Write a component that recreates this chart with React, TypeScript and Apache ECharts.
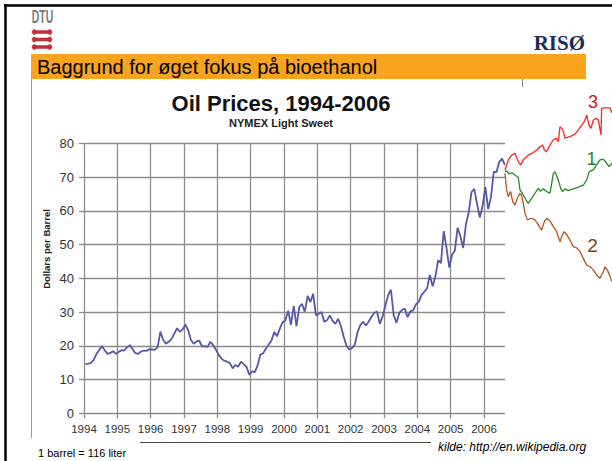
import React, { useEffect, useRef } from 'react';
import * as echarts from 'echarts';

// Monthly NYMEX light sweet prices (USD per barrel)
const priceYears = [1994, 1995, 1996, 1997, 1998, 1999, 2000, 2001, 2002, 2003, 2004, 2005, 2006];
const prices1994 = [14.6, 14.7, 14.9, 15.8, 17.6, 18.8, 19.9, 18.6, 17.6, 17.9, 18.4, 17.6];
const prices1995 = [18.2, 18.7, 18.6, 19.6, 20.2, 19.0, 17.8, 17.6, 18.3, 18.6, 18.5, 19.0];
const prices1996 = [18.9, 18.8, 19.6, 24.2, 21.7, 20.6, 21.2, 22.0, 23.6, 25.2, 24.2, 24.8];
const prices1997 = [26.3, 24.6, 21.7, 20.6, 21.3, 21.5, 19.8, 19.9, 19.7, 21.2, 20.2, 18.8];
const prices1998 = [17.3, 16.2, 15.6, 15.3, 14.9, 13.3, 14.3, 13.8, 15.3, 14.5, 13.8, 11.4];
const prices1999 = [12.4, 12.2, 14.2, 17.4, 17.8, 19.2, 20.4, 21.6, 24.1, 22.8, 25.1, 27.0];
const prices2000 = [27.6, 30.4, 26.2, 31.8, 25.8, 31.5, 32.4, 30.1, 34.8, 33.0, 35.4, 29.0];
const prices2001 = [29.5, 30.0, 27.1, 27.6, 29.0, 27.4, 26.5, 28.0, 25.8, 22.7, 20.0, 18.9];
const prices2002 = [19.3, 20.4, 24.1, 26.2, 27.1, 26.0, 27.2, 28.6, 29.8, 30.1, 26.5, 28.7];
const prices2003 = [32.0, 35.0, 36.6, 29.0, 26.8, 29.8, 30.6, 31.0, 28.5, 30.2, 30.5, 32.3];
const prices2004 = [33.0, 35.0, 36.0, 37.0, 41.0, 37.6, 40.5, 45.4, 44.5, 54.0, 49.0, 43.2];
const prices2005 = [47.0, 48.2, 55.0, 52.5, 49.0, 56.0, 59.5, 65.5, 66.5, 62.0, 58.0, 61.5];
const prices2006 = [67.0, 60.5, 64.0, 71.5, 71.5, 74.5, 75.5, 73.6];
const priceTable = [
  prices1994, prices1995, prices1996, prices1997, prices1998, prices1999, prices2000,
  prices2001, prices2002, prices2003, prices2004, prices2005, prices2006,
];

// Hand-drawn scenario curves beyond the chart (year, USD per barrel)
const scenario3Years = [2006.63, 2006.73, 2006.83, 2006.93, 2007.03, 2007.10, 2007.18, 2007.33, 2007.43, 2007.58, 2007.68, 2007.76, 2007.81, 2007.88, 2007.98, 2008.08, 2008.16, 2008.23, 2008.28, 2008.36, 2008.43, 2008.53, 2008.63, 2008.73, 2008.83, 2008.93, 2009.01, 2009.08, 2009.15, 2009.21, 2009.28, 2009.36, 2009.43, 2009.51, 2009.53, 2009.63, 2009.78, 2009.84];
const scenario3Values = [72.1, 75.1, 76.5, 77.0, 74.5, 73.6, 75.1, 76.5, 77.0, 78.0, 79.0, 79.5, 78.0, 77.5, 79.5, 81.0, 81.5, 80.5, 84.9, 84.2, 81.5, 81.8, 82.2, 82.7, 83.9, 85.4, 86.4, 88.4, 85.4, 84.4, 86.9, 87.4, 86.9, 82.5, 90.4, 90.5, 90.5, 89.0];

const scenario1Years = [2006.63, 2006.68, 2006.75, 2006.83, 2006.93, 2007.03, 2007.08, 2007.18, 2007.26, 2007.33, 2007.43, 2007.53, 2007.63, 2007.68, 2007.78, 2007.88, 2007.98, 2008.03, 2008.08, 2008.13, 2008.23, 2008.30, 2008.36, 2008.43, 2008.53, 2008.68, 2008.83, 2008.98, 2009.08, 2009.16, 2009.28, 2009.38, 2009.48, 2009.58, 2009.68, 2009.75, 2009.84];
const scenario1Values = [71.6, 71.8, 70.9, 71.3, 70.6, 69.8, 66.2, 64.7, 63.2, 62.2, 63.7, 65.2, 66.7, 65.8, 66.5, 65.7, 65.2, 68.1, 71.1, 71.6, 69.1, 66.7, 65.7, 66.5, 66.0, 66.5, 67.0, 67.6, 69.1, 71.6, 72.1, 73.6, 75.1, 75.3, 74.1, 73.1, 74.1];

const scenario2Years = [2006.63, 2006.66, 2006.68, 2006.73, 2006.80, 2006.86, 2006.93, 2007.00, 2007.08, 2007.13, 2007.18, 2007.23, 2007.30, 2007.41, 2007.53, 2007.63, 2007.73, 2007.81, 2007.88, 2007.98, 2008.08, 2008.18, 2008.28, 2008.33, 2008.40, 2008.48, 2008.58, 2008.68, 2008.78, 2008.88, 2008.98, 2009.08, 2009.18, 2009.28, 2009.38, 2009.48, 2009.58, 2009.63, 2009.70, 2009.78, 2009.84];
const scenario2Values = [71.1, 68.1, 66.2, 64.2, 65.7, 62.7, 61.7, 63.7, 65.2, 64.5, 62.2, 59.3, 57.3, 57.8, 57.3, 55.8, 54.3, 56.8, 57.8, 57.0, 55.3, 53.8, 50.8, 52.3, 53.8, 53.0, 51.3, 49.4, 49.0, 47.9, 45.9, 43.9, 43.5, 42.5, 41.0, 40.0, 42.0, 43.4, 42.5, 40.5, 39.0];

const yTicks = { min: 0, max: 80, interval: 10 };
const xTicks = { min: 1994, max: 2006.63, interval: 1 };

const FONT = '"Liberation Sans", Arial, Helvetica, sans-serif';
const GRID_COLOR = '#8c8c8c';

function zip(xs: number[], ys: number[]) {
  return xs.map((x, i) => [x, ys[i]]);
}

function txt(x: number, y: number, text: string, o: any = {}) {
  const align = o.align || 'left';
  const vAlign = o.verticalAlign || 'middle';
  return {
    type: 'text',
    x,
    y,
    rotation: o.rotation || 0,
    scaleX: o.scaleX || 1,
    z: 10,
    style: {
      text,
      fill: o.fill || '#000',
      fontSize: o.fontSize || 12,
      fontFamily: o.fontFamily || FONT,
      fontWeight: o.fontWeight || 'normal',
      fontStyle: o.fontStyle || 'normal',
      align,
      verticalAlign: vAlign,
      textAlign: align,
      textVerticalAlign: vAlign,
    },
  };
}

function dtuBar(y: number) {
  return {
    type: 'polygon',
    shape: {
      points: [
        [31.5, y], [33.5, y - 3], [37, y - 1.7], [47, y - 1.7], [50.5, y - 3], [52.5, y],
        [50.5, y + 3], [47, y + 1.7], [37, y + 1.7], [33.5, y + 3],
      ],
    },
    style: { fill: '#c52f38' },
  };
}

export default function App() {
  const ref = useRef<HTMLDivElement>(null);

  useEffect(() => {
    if (!ref.current) return;
    const chart = echarts.init(ref.current, null, { renderer: 'svg' });

    const priceData = priceTable.flatMap((arr, i) =>
      arr.map((v, m) => [priceYears[i] + (m + 0.5) / 12, v])
    );

    const gridLine = { color: GRID_COLOR, width: 1.3 };

    const option: any = {
      animation: false,
      backgroundColor: '#ffffff',
      title: {
        text: 'Oil Prices, 1994-2006',
        subtext: 'NYMEX Light Sweet',
        left: 276,
        top: 87,
        textAlign: 'center',
        itemGap: 3,
        textStyle: { fontFamily: FONT, fontSize: 22, fontWeight: 'bold', color: '#111' },
        subtextStyle: { fontFamily: FONT, fontSize: 11, fontWeight: 'bold', color: '#222' },
      },
      grid: [
        { left: 84, right: 107, top: 143.3, bottom: 47.7 },
        { left: 504, right: 0, top: 143.3, bottom: 47.7 },
      ],
      xAxis: [
        {
          type: 'value',
          gridIndex: 0,
          min: xTicks.min,
          max: xTicks.max,
          interval: xTicks.interval,
          axisLine: { show: false },
          axisTick: { show: true, length: 5, lineStyle: gridLine },
          axisLabel: {
            margin: 10,
            fontSize: 11.5,
            color: '#333',
            fontFamily: FONT,
            showMaxLabel: false,
            formatter: (v: number) => (Number.isInteger(v) ? String(v) : ''),
          },
          splitLine: { show: true, showMaxLine: false, lineStyle: gridLine },
        },
        { type: 'value', gridIndex: 1, min: 2006.6, max: 2009.84, show: false },
      ],
      yAxis: [
        {
          type: 'value',
          gridIndex: 0,
          min: yTicks.min,
          max: yTicks.max,
          interval: yTicks.interval,
          axisLine: { show: false },
          axisTick: { show: true, length: 5, lineStyle: gridLine },
          axisLabel: { margin: 10, fontSize: 13, color: '#333', fontFamily: FONT },
          splitLine: { show: true, lineStyle: gridLine },
        },
        { type: 'value', gridIndex: 1, min: yTicks.min, max: yTicks.max, show: false },
      ],
      series: [
        {
          name: 'Oil price',
          type: 'line',
          xAxisIndex: 0,
          yAxisIndex: 0,
          data: priceData,
          showSymbol: false,
          symbol: 'none',
          lineStyle: { color: '#5757a8', width: 1.8 },
          z: 3,
        },
        {
          name: '3',
          type: 'line',
          xAxisIndex: 1,
          yAxisIndex: 1,
          data: zip(scenario3Years, scenario3Values),
          showSymbol: false,
          symbol: 'none',
          clip: false,
          lineStyle: { color: '#ff2222', width: 1.3 },
          z: 4,
        },
        {
          name: '1',
          type: 'line',
          xAxisIndex: 1,
          yAxisIndex: 1,
          data: zip(scenario1Years, scenario1Values),
          showSymbol: false,
          symbol: 'none',
          clip: false,
          lineStyle: { color: '#2a8a22', width: 1.3 },
          z: 4,
        },
        {
          name: '2',
          type: 'line',
          xAxisIndex: 1,
          yAxisIndex: 1,
          data: zip(scenario2Years, scenario2Values),
          showSymbol: false,
          symbol: 'none',
          clip: false,
          lineStyle: { color: '#b8531c', width: 1.3 },
          z: 4,
        },
      ],
      graphic: [
        // slide border
        { type: 'line', shape: { x1: 4, y1: 5.5, x2: 612, y2: 5.5 }, style: { stroke: '#000', lineWidth: 2.5 } },
        { type: 'line', shape: { x1: 5.5, y1: 4, x2: 5.5, y2: 461 }, style: { stroke: '#000', lineWidth: 2.5 } },
        // DTU logo
        txt(42.5, 17, 'DTU', { align: 'center', fontSize: 18, fontWeight: 'bold', fill: '#7c7c7c', scaleX: 0.58 }),
        dtuBar(32),
        dtuBar(39.5),
        dtuBar(47),
        // RISØ
        txt(585, 43, 'RISØ', { align: 'right', fontSize: 21, fontWeight: 'bold', fill: '#1c2b57', fontFamily: '"Liberation Serif", "DejaVu Serif", serif' }),
        // banner
        { type: 'rect', shape: { x: 31, y: 54, width: 555, height: 25 }, style: { fill: '#f8a41e' } },
        txt(37, 67, 'Baggrund for øget fokus på bioethanol', { fontSize: 20, fill: '#000' }),
        // chart image frame
        { type: 'line', shape: { x1: 31.5, y1: 79, x2: 31.5, y2: 438 }, style: { stroke: '#9a9a9a', lineWidth: 1 } },
        { type: 'line', shape: { x1: 522.5, y1: 79, x2: 522.5, y2: 87 }, style: { stroke: '#8a8a8a', lineWidth: 1 } },
        // y axis name
        txt(46, 249, 'Dollars per Barrel', { align: 'center', fontSize: 9.5, fontWeight: 'bold', fill: '#222', rotation: Math.PI / 2 }),
        // footer
        { type: 'line', shape: { x1: 140, y1: 442.5, x2: 431, y2: 442.5 }, style: { stroke: '#444', lineWidth: 1 } },
        txt(38, 453, '1 barrel = 116 liter', { fontSize: 11, fill: '#000' }),
        txt(438, 447, 'kilde: http://en.wikipedia.org', { fontSize: 12, fontStyle: 'italic', fill: '#000' }),
        // scenario labels
        txt(593, 102, '3', { align: 'center', fontSize: 18, fill: '#dd1111' }),
        txt(591.5, 158.5, '1', { align: 'center', fontSize: 18, fill: '#1f8a1f' }),
        txt(592.5, 245, '2', { align: 'center', fontSize: 19, fill: '#7a3e0c' }),
      ],
    };

    chart.setOption(option);
    return () => chart.dispose();
  }, []);

  return (
    <div
      ref={ref}
      style={{ position: 'absolute', left: 0, top: 0, width: 612, height: 461 }}
    />
  );
}
